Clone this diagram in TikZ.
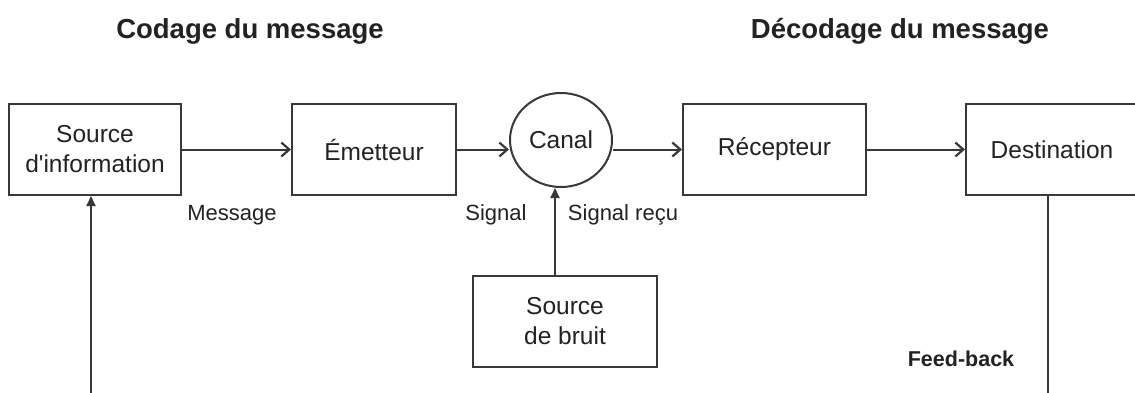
\documentclass[tikz,border=0pt]{standalone}
\usepackage{fontspec}
\setmainfont{Liberation Sans}
\usetikzlibrary{arrows.meta,shapes.geometric}
\definecolor{ln}{HTML}{383838}
\definecolor{tx}{HTML}{222222}
\tikzset{
  box/.style={draw=ln,line width=2pt,rectangle,minimum height=91pt,inner sep=0pt,
    text=tx,align=center,font=\fontsize{24.5}{30}\selectfont},
  lbl/.style={text=tx,inner sep=0pt,font=\fontsize{22}{26}\selectfont},
  ttl/.style={text=tx,inner sep=0pt,font=\fontsize{27.5}{32}\selectfont\bfseries},
  conn/.style={draw=ln,line width=2pt,-{Straight Barb[length=8pt,width=14pt,line width=2.2pt]}},
  connup/.style={draw=ln,line width=2pt,-{Triangle[length=10pt,width=9pt]}},
  plain/.style={draw=ln,line width=2pt}
}
\begin{document}
\begin{tikzpicture}[x=1pt,y=-1pt]
\useasboundingbox (0,0) rectangle (1135,392);
\clip (0,0) rectangle (1135,392);
\fill[white] (0,0) rectangle (1135,392);
% titles
\node[ttl] (t1) at (250,31) {Codage du message};
\node[ttl] (t2) at (900,31) {Décodage du message};
% main chain
\node[box,minimum width=172pt] (src) at (95,149.5) {Source\\d\textquotesingle information};
\node[box,minimum width=164pt] (em) at (374,149.5) {Émetteur};
\node[draw=ln,line width=2pt,ellipse,minimum width=102pt,minimum height=94pt,inner sep=0pt,
      text=tx,font=\fontsize{24.5}{30}\selectfont] (canal) at (561,140) {Canal};
\node[box,minimum width=183pt] (rec) at (774.5,149.5) {Récepteur};
\node[box,minimum width=172pt] (dest) at (1052,149.5) {Destination};
\node[box,minimum width=184pt] (bruit) at (565,321.5) {Source\\de bruit};
% labels
\node[lbl] (lmsg) at (232,215) {Message};
\node[lbl] (lsig) at (496,215) {Signal};
\node[lbl] (lsr) at (623,215) {Signal reçu};
\node[lbl,font=\fontsize{21.5}{26}\selectfont\bfseries] (lfb) at (961,359) {Feed-back};
% connectors
\draw[conn] (src.east) -- (em.west);
\draw[conn] (em.east) -- (em.east -| canal.west);
\draw[conn] (rec.west -| canal.east) -- (rec.west);
\draw[conn] (rec.east) -- (dest.west);
\coordinate (bn) at ([xshift=-10pt]bruit.north);
\draw[connup] (bn) -- (bn |- canal.south);
\coordinate (fbd) at (1048,395);
\coordinate (fbs) at (91,395);
\draw[plain] (dest.south -| fbd) -- (fbd);
\draw[connup] (fbs) -- (fbs |- src.south);
\end{tikzpicture}
\end{document}
